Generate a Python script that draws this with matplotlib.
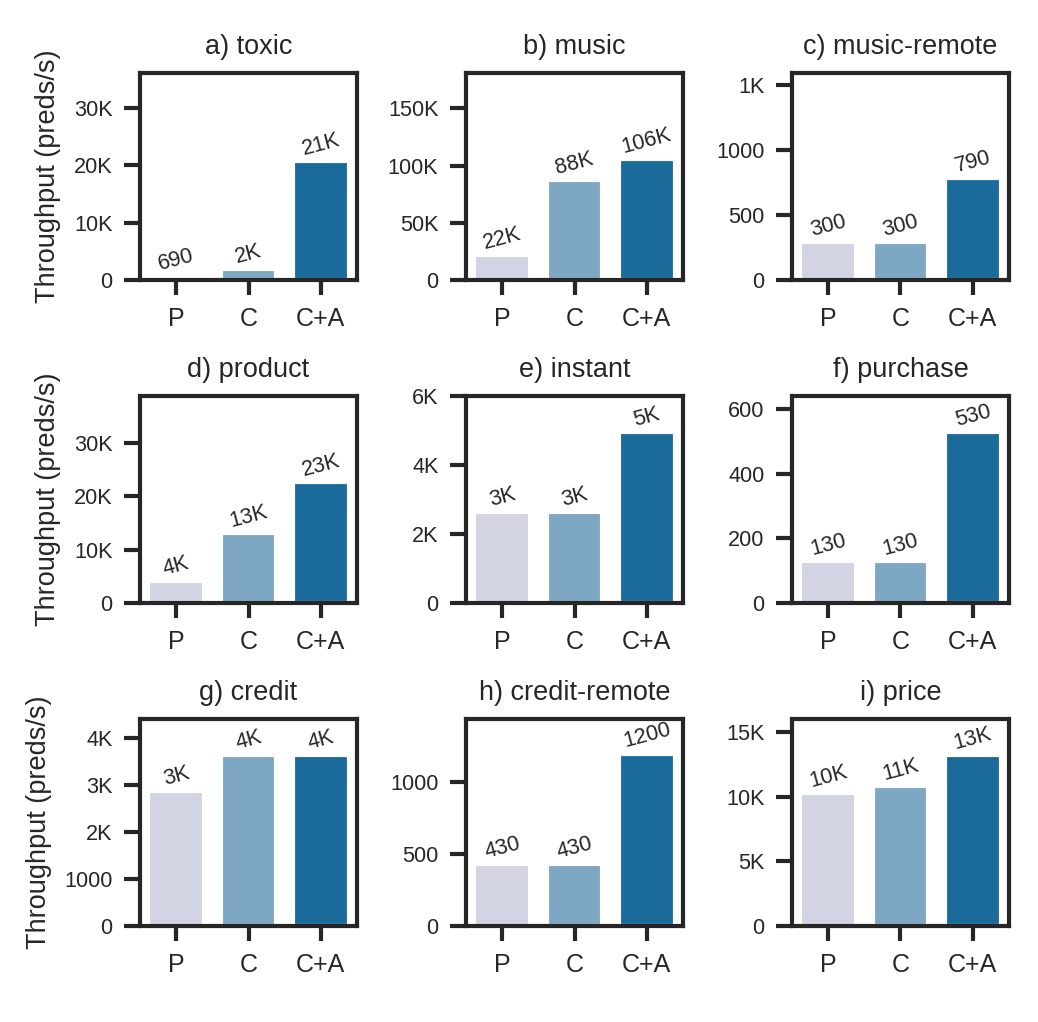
import numpy as np
import matplotlib
matplotlib.use("Agg")
import matplotlib.pyplot as plt
import seaborn as sns
from matplotlib.ticker import MultipleLocator, FuncFormatter

# --- data (throughput in predictions per second) ---
configs = ["P", "C", "C+A"]
titles = ["a) toxic", "b) music", "c) music-remote",
          "d) product", "e) instant", "f) purchase",
          "g) credit", "h) credit-remote", "i) price"]

toxic = [690, 1940, 20800]
music = [21600, 87600, 105600]
music_remote = [296, 296, 787]
product = [4100, 13150, 22600]
instant = [2630, 2630, 4950]
purchase = [129, 129, 528]
credit = [2875, 3640, 3640]
credit_remote = [428, 428, 1196]
price = [10280, 10820, 13230]

series = [toxic, music, music_remote, product, instant, purchase,
          credit, credit_remote, price]

# axis ranges and tick steps
ymax = [36100, 181000, 1595, 38800, 6000, 641, 4400, 1436, 16000]
ystep = [10000, 50000, 500, 10000, 2000, 200, 1000, 500, 5000]

sns.set_style("ticks")
plt.rcParams["font.family"] = ["Liberation Sans", "DejaVu Sans"]
plt.rcParams["axes.linewidth"] = 1.0
plt.rcParams["xtick.major.width"] = 1.0
plt.rcParams["ytick.major.width"] = 1.0
plt.rcParams["xtick.major.size"] = 3.5
plt.rcParams["ytick.major.size"] = 3.8

colors = [sns.desaturate(c, 0.75) for c in sns.color_palette("PuBu", 3)]


def tick_fmt(x, pos):
    if x > 1000:
        return f"{int(x // 1000)}K"
    return f"{int(x)}"


def bar_fmt(v):
    if v >= 1500:
        return f"{round(v / 1000)}K"
    return f"{int(float(f'{v:.2g}'))}"


fig, axes = plt.subplots(3, 3, figsize=(1038 / 300, 1022 / 300), dpi=300)
plt.subplots_adjust(left=140 / 1038, right=1009 / 1038,
                    top=1 - 73 / 1022, bottom=1 - 926 / 1022,
                    wspace=0.502, hspace=0.56)

for i, ax in enumerate(axes.flat):
    vals = series[i]
    x = np.arange(len(configs))
    bars = ax.bar(x, vals, width=0.77, color=colors)
    for b, v in zip(bars, vals):
        ax.annotate(bar_fmt(v), (b.get_x() + b.get_width() / 2, v),
                    xytext=(0, 0.3), textcoords="offset points",
                    ha="center", va="bottom", rotation=15, fontsize=5.2,
                    color="#262626")
    ax.set_xlim(-0.5, 2.5)
    ax.set_ylim(0, ymax[i])
    ax.set_xticks(x)
    ax.set_xticklabels(configs, fontsize=6)
    ax.yaxis.set_major_locator(MultipleLocator(ystep[i]))
    ax.yaxis.set_major_formatter(FuncFormatter(tick_fmt))
    ax.tick_params(axis="y", labelsize=5.2, pad=2.8)
    ax.tick_params(axis="x", pad=3)
    ax.set_title(titles[i], fontsize=6.5, pad=4.5)
    if i % 3 == 0:
        ax.set_ylabel("Throughput (preds/s)", fontsize=6.5, labelpad=3)

fig.savefig("out.png", dpi=300)
